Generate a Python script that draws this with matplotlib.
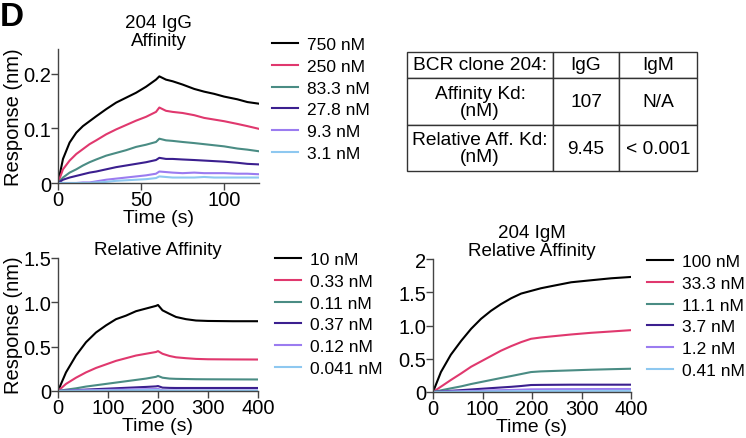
import matplotlib
matplotlib.use("Agg")
import matplotlib.pyplot as plt

plt.rcParams['font.family'] = ['Liberation Sans', 'DejaVu Sans']

# colours for the six concentrations (high -> low)
colors = ['#000000', '#e0386e', '#4a8c84', '#3b1f8f', '#9b7cf0', '#8ec8f0']

# ---- 204 IgG affinity (top left) ----
t_igg = [0, 3, 7, 11, 15, 19, 23, 29, 35, 41, 47, 53, 59, 61, 65, 69, 75, 82, 88, 94, 100, 108, 114, 121]
igg_labels = ['750 nM', '250 nM', '83.3 nM', '27.8 nM', '9.3 nM', '3.1 nM']
igg_750 = [0, 0.044, 0.074, 0.092, 0.104, 0.113, 0.122, 0.135, 0.147, 0.156, 0.165, 0.176, 0.189, 0.195,
           0.189, 0.186, 0.180, 0.172, 0.167, 0.163, 0.158, 0.153, 0.148, 0.145]
igg_250 = [0, 0.025, 0.041, 0.053, 0.062, 0.071, 0.078, 0.089, 0.098, 0.106, 0.114, 0.121, 0.130, 0.138,
           0.132, 0.130, 0.128, 0.124, 0.119, 0.116, 0.113, 0.108, 0.104, 0.099]
igg_83 = [0, 0.010, 0.019, 0.025, 0.032, 0.038, 0.043, 0.050, 0.055, 0.060, 0.066, 0.070, 0.075, 0.081,
          0.078, 0.077, 0.075, 0.073, 0.071, 0.069, 0.067, 0.063, 0.061, 0.058]
igg_28 = [0, 0.006, 0.010, 0.013, 0.016, 0.019, 0.021, 0.025, 0.029, 0.032, 0.035, 0.038, 0.042, 0.046,
          0.044, 0.044, 0.043, 0.042, 0.041, 0.040, 0.039, 0.037, 0.035, 0.034]
igg_9 = [0, 0, 0, 0, 0.001, 0.001, 0.003, 0.006, 0.008, 0.010, 0.012, 0.014, 0.017, 0.021,
         0.020, 0.019, 0.018, 0.019, 0.018, 0.018, 0.018, 0.017, 0.017, 0.016]
igg_3 = [0, 0, 0, 0, 0, 0, 0.001, 0.002, 0.004, 0.005, 0.006, 0.007, 0.009, 0.012,
         0.011, 0.010, 0.010, 0.010, 0.011, 0.010, 0.010, 0.010, 0.010, 0.010]

# ---- IgG relative affinity (bottom left) ----
t_rel = [0, 16, 36, 56, 76, 96, 116, 136, 156, 176, 196, 200, 209, 223, 236, 256, 276, 300, 350, 400]
rel_labels = ['10 nM', '0.33 nM', '0.11 nM', '0.37 nM', '0.12 nM', '0.041 nM']
rel_10 = [0, 0.21, 0.40, 0.55, 0.66, 0.74, 0.81, 0.85, 0.90, 0.93, 0.96, 0.97, 0.91, 0.87, 0.835,
          0.81, 0.795, 0.79, 0.787, 0.787]
rel_033 = [0, 0.08, 0.15, 0.21, 0.26, 0.30, 0.34, 0.37, 0.40, 0.42, 0.44, 0.45, 0.42, 0.395, 0.38,
           0.37, 0.362, 0.358, 0.356, 0.355]
rel_011 = [0, 0.015, 0.03, 0.05, 0.065, 0.08, 0.095, 0.11, 0.125, 0.14, 0.16, 0.17, 0.15, 0.14, 0.137,
           0.135, 0.133, 0.132, 0.131, 0.13]
rel_037 = [0, 0.005, 0.01, 0.016, 0.021, 0.026, 0.031, 0.036, 0.041, 0.046, 0.052, 0.056, 0.038, 0.035,
           0.034, 0.034, 0.034, 0.034, 0.034, 0.034]
rel_012 = [0, 0.003, 0.006, 0.008, 0.010, 0.012, 0.014, 0.016, 0.018, 0.020, 0.022, 0.024, 0.008, 0.006,
           0.006, 0.005, 0.005, 0.005, 0.005, 0.005]
rel_0041 = [0, 0.001, 0.002, 0.003, 0.004, 0.005, 0.006, 0.007, 0.008, 0.009, 0.010, 0.010, 0.004, 0.003,
            0.003, 0.003, 0.003, 0.003, 0.003, 0.003]

# ---- 204 IgM relative affinity (bottom right) ----
t_igm = [0, 16, 36, 57, 77, 97, 117, 137, 158, 178, 198, 218, 238, 279, 319, 360, 400]
igm_labels = ['100 nM', '33.3 nM', '11.1 nM', '3.7 nM', '1.2 nM', '0.41 nM']
igm_100 = [0, 0.30, 0.56, 0.77, 0.95, 1.10, 1.22, 1.32, 1.41, 1.48, 1.52, 1.56, 1.59, 1.65, 1.68, 1.71, 1.73]
igm_33 = [0, 0.08, 0.18, 0.28, 0.38, 0.46, 0.54, 0.62, 0.69, 0.75, 0.80, 0.82, 0.835, 0.865, 0.89, 0.91, 0.93]
igm_11 = [0, 0.025, 0.055, 0.085, 0.12, 0.15, 0.18, 0.21, 0.24, 0.27, 0.30, 0.31, 0.315, 0.325, 0.335, 0.343, 0.35]
igm_37 = [0, 0.008, 0.018, 0.028, 0.038, 0.048, 0.058, 0.068, 0.078, 0.09, 0.105, 0.107, 0.108, 0.11, 0.11, 0.11, 0.11]
igm_12 = [0, 0.003, 0.007, 0.011, 0.015, 0.019, 0.023, 0.027, 0.031, 0.035, 0.04, 0.041, 0.042, 0.043, 0.044, 0.045, 0.045]
igm_041 = [0, 0.001, 0.003, 0.004, 0.006, 0.007, 0.009, 0.010, 0.012, 0.013, 0.015, 0.015, 0.016, 0.016, 0.017, 0.017, 0.017]

# ---- summary table ----
table_rows = [['BCR clone 204:', 'IgG', 'IgM'],
              ['Affinity Kd:\n(nM)', '107', 'N/A'],
              ['Relative Aff. Kd:\n(nM)', '9.45', '< 0.001']]

W, H = 746, 439
fig = plt.figure(figsize=(W / 100, H / 100), dpi=100)


def px_axes(left, top, right, bottom):
    # axes from pixel box
    return fig.add_axes([left / W, 1 - bottom / H, (right - left) / W, (bottom - top) / H])


def style(ax):
    for s in ['top', 'right']:
        ax.spines[s].set_visible(False)
    for s in ['left', 'bottom']:
        ax.spines[s].set_color('#444444')
        ax.spines[s].set_linewidth(1)
    ax.tick_params(direction='out', length=5, width=1, color='#444444', labelsize=14.5, pad=0)


def panel(ax, t, series, labels, title, leg_xy):
    for y, lab, c in zip(series, labels, colors):
        ax.plot(t, y, color=c, lw=1.5, label=lab)
    style(ax)
    ax.set_title(title, fontsize=13.5, pad=3, linespacing=1.1)
    ax.set_xlabel('Time (s)', fontsize=14, labelpad=0)
    ax.legend(loc='upper left', bbox_to_anchor=(leg_xy[0] / W, 1 - leg_xy[1] / H),
              bbox_transform=fig.transFigure, frameon=False, fontsize=12.5,
              handlelength=1.5, handletextpad=0.5, labelspacing=0.38, borderaxespad=0, borderpad=0)


ax1 = px_axes(58, 50, 259, 184)
panel(ax1, t_igg, [igg_750, igg_250, igg_83, igg_28, igg_9, igg_3], igg_labels,
      '204 IgG\nAffinity', (272, 38))
ax1.set_xlim(0, 121)
ax1.set_ylim(0, 0.245)
ax1.set_xticks([0, 50, 100])
ax1.set_yticks([0, 0.1, 0.2])
ax1.set_yticklabels(['0', '0.1', '0.2'])
ax1.set_ylabel('Response (nm)', fontsize=14.5, labelpad=0)

ax2 = px_axes(58, 259, 258, 392)
panel(ax2, t_rel, [rel_10, rel_033, rel_011, rel_037, rel_012, rel_0041], rel_labels,
      'Relative Affinity', (275, 253))
ax2.set_xlim(0, 400)
ax2.set_ylim(0, 1.5)
ax2.set_xticks([0, 100, 200, 300, 400])
ax2.set_yticks([0, 0.5, 1.0, 1.5])
ax2.set_yticklabels(['0', '0.5', '1.0', '1.5'])
ax2.set_ylabel('Response (nm)', fontsize=14.5, labelpad=0)

ax3 = px_axes(433, 260, 631, 393)
panel(ax3, t_igm, [igm_100, igm_33, igm_11, igm_37, igm_12, igm_041], igm_labels,
      '204 IgM\nRelative Affinity', (647, 255))
ax3.set_xlim(0, 400)
ax3.set_ylim(0, 2)
ax3.set_xticks([0, 100, 200, 300, 400])
ax3.set_yticks([0, 0.5, 1.0, 1.5, 2])
ax3.set_yticklabels(['0', '0.5', '1.0', '1.5', '2'])

# table
tax = px_axes(407, 53, 697, 172)
tax.axis('off')
tab = tax.table(cellText=table_rows, colWidths=[146, 66, 78], cellLoc='center', bbox=[0, 0, 1, 1])
tab.auto_set_font_size(False)
tab.set_fontsize(13.8)
row_h = [26, 48, 46]
for (r, c), cell in tab.get_celld().items():
    cell.set_height(row_h[r])
    cell.set_edgecolor('#333333')
    cell.set_linewidth(1)
    cell.get_text().set_linespacing(1.0)

fig.text(0, 1 - 26 / H, 'D', fontsize=24, fontweight='bold', ha='left', va='baseline')

fig.savefig('out.png', dpi=100)
